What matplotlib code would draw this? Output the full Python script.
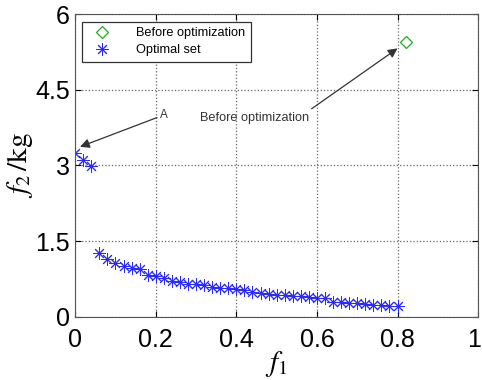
import matplotlib.pyplot as plt
import matplotlib.transforms as mtransforms

# === Data ===
f1_opt = [0.00, 0.02, 0.04,
          0.06, 0.08, 0.10, 0.12, 0.14, 0.16, 0.18, 0.20, 0.22, 0.24,
          0.26, 0.28, 0.30, 0.32, 0.34, 0.36, 0.38, 0.40, 0.42, 0.44,
          0.46, 0.48, 0.50, 0.52, 0.54, 0.56, 0.58, 0.60, 0.62, 0.64,
          0.66, 0.68, 0.70, 0.72, 0.74, 0.76, 0.78, 0.80]
f2_opt = [3.24, 3.11, 2.98,
          1.26, 1.14, 1.06, 1.00, 0.96, 0.94, 0.83, 0.81, 0.77, 0.71,
          0.70, 0.65, 0.65, 0.63, 0.59, 0.58, 0.57, 0.55, 0.53, 0.50,
          0.47, 0.46, 0.44, 0.43, 0.42, 0.41, 0.40, 0.38, 0.37, 0.30,
          0.29, 0.28, 0.27, 0.26, 0.24, 0.23, 0.22, 0.22]
f1_before = [0.82]
f2_before = [5.45]

plt.rcParams['font.family'] = ['Liberation Sans', 'DejaVu Sans']
plt.rcParams['mathtext.fontset'] = 'stix'

fig = plt.figure(figsize=(4.82, 3.80), dpi=100)
ax = fig.add_axes([0.156, 0.166, 0.836, 0.797])

ax.plot(f1_before, f2_before, linestyle='none', marker='D', markersize=6.5,
        markerfacecolor='none', markeredgecolor='#22aa22', markeredgewidth=0.9,
        label='Before optimization')
ax.plot(f1_opt, f2_opt, linestyle='none', marker=(8, 2, 0), markersize=9,
        color='#2a2aff', markeredgewidth=0.7, label='Optimal set')

ax.set_xlim(0, 1)
ax.set_ylim(0, 6)
ax.set_xticks([0, 0.2, 0.4, 0.6, 0.8, 1])
ax.set_xticklabels(['0', '0.2', '0.4', '0.6', '0.8', '1'])
ax.set_yticks([0, 1.5, 3, 4.5, 6])
ax.set_yticklabels(['0', '1.5', '3', '4.5', '6'])
ax.tick_params(direction='in', labelsize=18, top=True, right=True, length=4)
ax.tick_params(axis='x', pad=8)
ax.tick_params(axis='y', pad=4)
ax.grid(True, linestyle=':', color='#666666', linewidth=0.9)
for s in ax.spines.values():
    s.set_color('#555555')

# keep the last x tick label ("1") inside the figure edge
last = ax.get_xticklabels()[-1]
last.set_transform(last.get_transform() +
                   mtransforms.ScaledTranslation(-4 / 100, 0, fig.dpi_scale_trans))

ax.set_xlabel(r'$f_1$', fontsize=21, labelpad=-2)
ax.set_ylabel(r'$f_2\,/\mathrm{kg}$', fontsize=21, labelpad=0)

ax.annotate('A', xy=(0.012, 3.37), xytext=(0.21, 4.0), fontsize=8.5,
            color='#333333', va='center', ha='left',
            arrowprops=dict(arrowstyle='-|>', color='#333333', lw=0.9,
                            mutation_scale=14, shrinkA=0, shrinkB=0))
ax.annotate('Before optimization', xy=(0.80, 5.32), xytext=(0.31, 3.95),
            fontsize=9.2, color='#333333', va='center', ha='left',
            arrowprops=dict(arrowstyle='-|>', color='#333333', lw=0.9,
                            mutation_scale=14, shrinkA=0, shrinkB=0,
                            relpos=(0.97, 0.9)))

leg = ax.legend(loc='upper left', bbox_to_anchor=(0.017, 0.975), fontsize=9.2,
                fancybox=False, edgecolor='#333333', framealpha=1,
                handlelength=2.2, handletextpad=1.6, borderpad=0.45,
                borderaxespad=0, labelspacing=0.4)
leg.get_frame().set_linewidth(0.9)

fig.savefig('out.png', dpi=100)
